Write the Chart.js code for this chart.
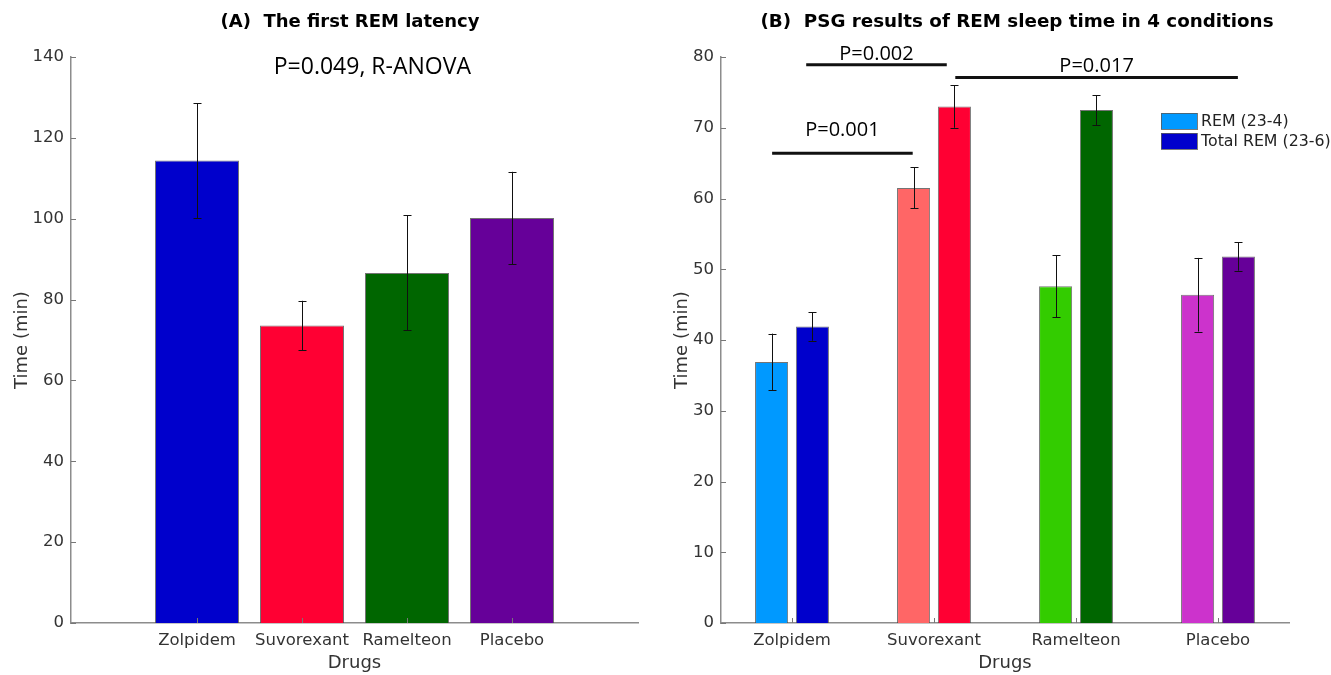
<!DOCTYPE html>
<html>
<head>
<meta charset="utf-8">
<script src="https://cdn.jsdelivr.net/npm/chart.js@4.4.1/dist/chart.umd.min.js"></script>
<style>
    html, body { margin: 0; padding: 0; background: #fff; }
    #wrap { position: relative; width: 1331px; height: 675px; overflow: hidden; }
    canvas { position: absolute; top: 0; }
</style>
</head>
<body>
<div id="wrap">
    <canvas id="latency" width="665" height="675" style="left:0"></canvas>
    <canvas id="remTime" width="666" height="675" style="left:665px"></canvas>
</div>
<script>
// ---- data ----
const drugs = ['Zolpidem', 'Suvorexant', 'Ramelteon', 'Placebo'];

// (A) first REM latency, minutes (mean and error)
const latencyMean = [114.4, 73.6, 86.6, 100.2];
const latencyErr = [14.2, 6.1, 14.2, 11.4];
const latencyColors = ['#0000CC', '#FF0033', '#006600', '#660099'];
const latencyTicks = [0, 20, 40, 60, 80, 100, 120, 140];

// (B) REM sleep time, minutes
const remMean = [36.9, 61.5, 47.6, 46.4];
const remErr = [4.0, 2.9, 4.4, 5.2];
const totalRemMean = [41.9, 73.0, 72.5, 51.8];
const totalRemErr = [2.0, 3.0, 2.1, 2.0];
const remColors = ['#0099FF', '#FF6666', '#33CC00', '#CC33CC'];
const totalRemColors = ['#0000CC', '#FF0033', '#006600', '#660099'];
const remTicks = [0, 10, 20, 30, 40, 50, 60, 70, 80];

// significance brackets on (B): category index range and height in minutes
const pBrackets = [
    { text: 'P=0.002', from: 0.1, to: 1.09, y: 78.9, textY: 80.4 },
    { text: 'P=0.017', from: 1.15, to: 3.14, y: 77.1, textY: 78.7 },
    { text: 'P=0.001', from: -0.14, to: 0.85, y: 66.4, textY: 69.6 }
];

const FONT = "'DejaVu Sans', Verdana, sans-serif";
const AXIS_GRAY = '#8c8c8c';
const LABEL_COLOR = '#333';

function line(ctx, x1, y1, x2, y2) {
    ctx.beginPath();
    ctx.moveTo(x1, y1);
    ctx.lineTo(x2, y2);
    ctx.stroke();
}

// MATLAB-like inward ticks + error bars, drawn on top of the bars
function decorPlugin(xTickValues) {
    return {
        id: 'decor',
        afterDatasetsDraw(chart) {
            const { ctx, chartArea, scales } = chart;
            const xs = scales.x, ys = scales.y;
            ctx.save();
            ctx.strokeStyle = '#777';
            ctx.lineWidth = 1;
            ys.ticks.forEach(t => {
                const py = Math.round(ys.getPixelForValue(t.value)) + 0.5;
                line(ctx, chartArea.left, py, chartArea.left + 5, py);
            });
            xTickValues.forEach(v => {
                const px = Math.round(xs.getPixelForValue(v)) + 0.5;
                line(ctx, px, chartArea.bottom, px, chartArea.bottom - 5);
            });

            // error bars
            ctx.strokeStyle = '#111';
            chart.data.datasets.forEach((ds, di) => {
                const meta = chart.getDatasetMeta(di);
                meta.data.forEach((bar, i) => {
                    const m = meta.controller.getParsed(i).y;
                    const e = ds.errorBars[i];
                    const top = ys.getPixelForValue(m + e);
                    const bot = ys.getPixelForValue(m - e);
                    const cx = Math.round(bar.x) + 0.5;
                    line(ctx, cx, top, cx, bot);
                    line(ctx, cx - 4, Math.round(top) + 0.5, cx + 4, Math.round(top) + 0.5);
                    line(ctx, cx - 4, Math.round(bot) + 0.5, cx + 4, Math.round(bot) + 0.5);
                });
            });
            ctx.restore();
        }
    };
}

function textPlugin(drawFn) {
    return { id: 'texts', afterDraw(chart) { chart.ctx.save(); drawFn(chart); chart.ctx.restore(); } };
}

function yScale(max, step, width, titlePad) {
    return {
        min: 0,
        max: max,
        ticks: { stepSize: step, padding: 7, color: LABEL_COLOR, font: { family: FONT, size: 16.5 } },
        grid: { display: false, drawTicks: false },
        border: { color: AXIS_GRAY, width: 1.5 },
        title: {
            display: true, text: 'Time (min)', color: LABEL_COLOR,
            font: { family: FONT, size: 18 }, padding: { top: titlePad, bottom: 0 }
        },
        afterFit: s => { s.width = width; }
    };
}

function xTitle() {
    return {
        display: true, text: 'Drugs', color: LABEL_COLOR,
        font: { family: FONT, size: 18 }, padding: { top: 0, bottom: 1 }
    };
}

// ---- (A) ----
new Chart(document.getElementById('latency'), {
    type: 'bar',
    data: {
        datasets: [{
            label: 'First REM latency',
            data: latencyMean.map((v, i) => ({ x: i + 1, y: v })),
            errorBars: latencyErr,
            backgroundColor: latencyColors,
            borderColor: 'rgba(70,70,70,0.75)',
            borderWidth: 1,
            borderSkipped: 'bottom',
            barPercentage: 0.8,
            categoryPercentage: 1
        }]
    },
    options: {
        responsive: false,
        animation: false,
        layout: { padding: { left: 0, right: 27, top: 57, bottom: 0 } },
        plugins: { legend: { display: false }, tooltip: { enabled: false } },
        scales: {
            x: {
                type: 'linear',
                min: -0.2,
                max: 5.2,
                offset: false,
                afterBuildTicks: s => { s.ticks = drugs.map((d, i) => ({ value: i + 1 })); },
                ticks: {
                    callback: v => drugs[v - 1] || '',
                    autoSkip: false, maxRotation: 0, padding: 8,
                    color: LABEL_COLOR, font: { family: FONT, size: 16.5 }
                },
                grid: { display: false, drawTicks: false },
                border: { color: AXIS_GRAY, width: 1.5 },
                title: xTitle(),
                afterFit: s => { s.height = 52; }
            },
            y: yScale(140, 20, 71, 12)
        }
    },
    plugins: [
        decorPlugin([1, 2, 3, 4]),
        textPlugin(chart => {
            const { ctx, scales } = chart;
            ctx.fillStyle = '#000';
            ctx.textAlign = 'center';
            ctx.textBaseline = 'middle';
            ctx.font = `bold 18px ${FONT}`;
            ctx.fillText('(A)  The first REM latency', 350, 22);
            ctx.font = "23px 'Open Sans', sans-serif";
            ctx.fillText('P=0.049, R-ANOVA', scales.x.getPixelForValue(2.67), scales.y.getPixelForValue(137.3));
        })
    ]
});

// ---- (B) ----
new Chart(document.getElementById('remTime'), {
    type: 'bar',
    data: {
        labels: drugs,
        datasets: [
            {
                label: 'REM (23-4)',
                data: remMean,
                errorBars: remErr,
                backgroundColor: remColors,
                legendColor: remColors[0]
            },
            {
                label: 'Total REM (23-6)',
                data: totalRemMean,
                errorBars: totalRemErr,
                backgroundColor: totalRemColors,
                legendColor: totalRemColors[0]
            }
        ].map(ds => Object.assign(ds, {
            borderColor: 'rgba(70,70,70,0.75)',
            borderWidth: 1,
            borderSkipped: 'bottom',
            barPercentage: 0.81,
            categoryPercentage: 0.575
        }))
    },
    options: {
        responsive: false,
        animation: false,
        layout: { padding: { left: 0, right: 42, top: 57, bottom: 0 } },
        plugins: { legend: { display: false }, tooltip: { enabled: false } },
        scales: {
            x: {
                ticks: {
                    autoSkip: false, maxRotation: 0, padding: 8,
                    color: LABEL_COLOR, font: { family: FONT, size: 16.5 }
                },
                grid: { display: false, drawTicks: false },
                border: { color: AXIS_GRAY, width: 1.5 },
                title: xTitle(),
                afterFit: s => { s.height = 52; }
            },
            y: yScale(80, 10, 56, 7)
        }
    },
    plugins: [
        decorPlugin([0, 1, 2, 3]),
        textPlugin(chart => {
            const { ctx, scales, chartArea } = chart;
            const xs = scales.x, ys = scales.y;
            ctx.fillStyle = '#000';
            ctx.textAlign = 'center';
            ctx.textBaseline = 'middle';
            ctx.font = `bold 18.3px ${FONT}`;
            ctx.fillText('(B)  PSG results of REM sleep time in 4 conditions', 352, 22);

            // significance brackets
            ctx.strokeStyle = '#111';
            ctx.lineWidth = 3;
            ctx.font = "20px 'Open Sans', sans-serif";
            pBrackets.forEach(b => {
                const x1 = xs.getPixelForValue(b.from), x2 = xs.getPixelForValue(b.to);
                const py = ys.getPixelForValue(b.y);
                line(ctx, x1, py, x2, py);
                ctx.fillText(b.text, (x1 + x2) / 2, ys.getPixelForValue(b.textY));
            });

            // legend
            const lx = chartArea.right - 128;
            let ly = chartArea.top + 56;
            ctx.lineWidth = 1;
            ctx.strokeStyle = 'rgba(90,90,90,0.8)';
            ctx.textAlign = 'left';
            ctx.font = `15.8px ${FONT}`;
            chart.data.datasets.forEach(ds => {
                ctx.fillStyle = ds.legendColor;
                ctx.fillRect(lx, ly, 36, 16);
                ctx.strokeRect(lx + 0.5, ly + 0.5, 36, 16);
                ctx.fillStyle = '#222';
                ctx.fillText(ds.label, lx + 40, ly + 8.5);
                ly += 20;
            });
        })
    ]
});
</script>
</body>
</html>
